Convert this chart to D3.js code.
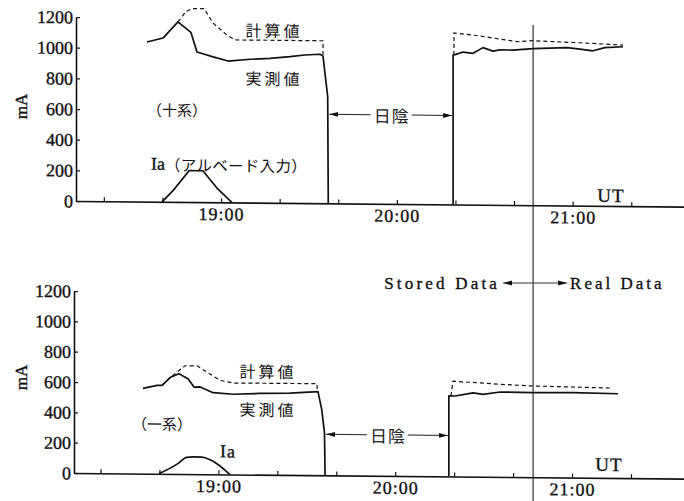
<!DOCTYPE html>
<html>
<head>
<meta charset="utf-8">
<script src="https://cdn.jsdelivr.net/npm/d3@7"></script>
<style>
  body { margin: 0; background: #fff; }
  svg { display: block; }
  .serif { font-family: "Liberation Serif", "Times New Roman", serif; stroke: #111; stroke-width: 0.35px; }
  .jp { font-family: "Noto Sans CJK JP", sans-serif; }
</style>
</head>
<body>
<svg id="chart" width="684" height="501"></svg>
<script>
// Time is given in minutes after 18:00 UT, current in mA.
const yTicks = [0, 200, 400, 600, 800, 1000, 1200];
const xTicks = [20, 40, 60, 80, 100, 120, 140, 160, 180, 200];
const hourTicks = [60, 120, 180];
const hourLabels = ["19:00", "20:00", "21:00"];

// (+) system
const plusMeasuredA = [[34.7,1041],[40.2,1068],[45.3,1174],[49.7,1107],[51.8,979],[57.3,948],[62.4,922],[69.9,935],[76.7,942],[83.5,954],[88.6,966],[93.8,972],[94.8,960],[96.4,695],[96.6,0]];
const plusMeasuredB = [[139.2,0],[139.2,975],[139.9,978],[142.6,995],[146.0,987],[149.4,1025],[152.8,1003],[155.2,1011],[159.6,1011],[166.5,1021],[178.1,1030],[182.5,1021],[186.9,1011],[191.0,1032],[197.2,1039]];
const plusCalcA = [[45.3,1174],[48.0,1242],[50.1,1262],[54.2,1263],[57.3,1168],[62.0,1092],[64.8,1060],[94.8,1060],[94.8,960]];
const plusCalcB = [[139.5,975],[139.5,1119],[148.2,1101],[161.0,1066],[166.5,1073],[186.9,1059],[197.2,1050]];
const plusAlbedo = [[39.9,0],[43.6,73],[49.1,205],[53.8,205],[58.6,93],[63.7,0]];
const plusEclipse = [96.6, 139.2];

// (-) system
const minusMeasuredA = [[34.4,562],[39.2,583],[40.9,583],[43.6,635],[46.6,661],[49.7,629],[51.7,574],[53.8,575],[58.2,538],[65.0,529],[74.1,536],[84.3,540],[93.8,551],[95.1,430],[96.0,280],[96.2,0]];
const minusMeasuredB = [[138.2,0],[138.2,531],[140.3,531],[146.4,553],[149.8,544],[155.6,560],[166.4,558],[180.3,561],[195.6,556]];
const minusCalcA = [[40.9,583],[43.6,635],[48.7,714],[52.7,714],[56.1,674],[60.5,620],[65.0,603],[93.5,604],[93.5,551]];
const minusCalcB = [[138.9,531],[139.6,629],[155.6,611],[166.4,602],[193.6,593]];
const minusAlbedo = [[39.8,0],[46,65],[49.3,110],[51.5,113],[54.4,112],[57,97],[59.5,70],[62,32],[63.9,0]];
const minusEclipse = [96.2, 138.2];

// Switch from stored to real-time telemetry
const switchTime = 166.5;

const svg = d3.select("#chart");
const SLOPE = 0.0093; // the baseline of each panel runs slightly downhill

const defs = svg.append("defs");
defs.append("marker")
  .attr("id", "head")
  .attr("viewBox", "0 0 9 6")
  .attr("refX", 9).attr("refY", 3)
  .attr("markerWidth", 9).attr("markerHeight", 6)
  .attr("markerUnits", "userSpaceOnUse")
  .attr("orient", "auto-start-reverse")
  .append("path").attr("d", "M0,0.5 L9,3 L0,5.5 Z").attr("fill", "#111");

function drawPanel(cfg) {
  const g = svg.append("g")
    .attr("transform", `matrix(1,${SLOPE},0,1,0,${-SLOPE * cfg.x0})`);

  const x = d3.scaleLinear().domain(cfg.domain).range([cfg.x0, 684]);
  const y = d3.scaleLinear().domain([0, 1200]).range([cfg.y0, cfg.y0 - cfg.h]);

  const yAxis = g.append("g")
    .attr("transform", `translate(${cfg.x0},0)`)
    .call(d3.axisLeft(y).tickValues(yTicks).tickSize(-4).tickSizeOuter(0).tickPadding(3).tickFormat(d3.format("d")));
  const xAxis = g.append("g")
    .attr("transform", `translate(0,${cfg.y0})`)
    .call(d3.axisBottom(x).tickValues(xTicks).tickSize(-4).tickSizeOuter(0).tickPadding(5)
      .tickFormat(d => { const i = hourTicks.indexOf(d); return i >= 0 ? hourLabels[i] : ""; }));
  [yAxis, xAxis].forEach(a => {
    a.select(".domain").attr("stroke", "#111").attr("stroke-width", 1.6);
    a.selectAll(".tick line").attr("stroke", "#111").attr("stroke-width", 1.2);
    a.selectAll("text").attr("class", "serif").attr("font-size", 18).attr("fill", "#111");
  });
  xAxis.selectAll("text").attr("letter-spacing", 1);

  const line = d3.line().x(d => x(d[0])).y(d => y(d[1]));
  const smooth = d3.line().x(d => x(d[0])).y(d => y(d[1])).curve(d3.curveMonotoneX);

  [cfg.measuredA, cfg.measuredB].forEach(s => g.append("path").attr("d", line(s))
    .attr("fill", "none").attr("stroke", "#111").attr("stroke-width", 1.7).attr("stroke-linejoin", "round"));
  [cfg.calcA, cfg.calcB].forEach(s => g.append("path").attr("d", line(s))
    .attr("fill", "none").attr("stroke", "#111").attr("stroke-width", 1.2).attr("stroke-dasharray", "4,3"));
  g.append("path").attr("d", (cfg.smoothAlbedo ? smooth : line)(cfg.albedo))
    .attr("fill", "none").attr("stroke", "#111").attr("stroke-width", 1.7).attr("stroke-linejoin", "round");

  // eclipse span
  const ex0 = x(cfg.eclipse[0]), ex1 = x(cfg.eclipse[1]);
  const ey = cfg.eclipseY, ec = (ex0 + ex1) / 2 + 1;
  g.append("line").attr("x1", ec - 21).attr("y1", ey).attr("x2", ex0 + 1).attr("y2", ey)
    .attr("stroke", "#222").attr("stroke-width", 1).attr("marker-end", "url(#head)");
  g.append("line").attr("x1", ec + 20).attr("y1", ey).attr("x2", ex1 - 1).attr("y2", ey)
    .attr("stroke", "#222").attr("stroke-width", 1).attr("marker-end", "url(#head)");
  g.append("text").attr("class", "jp").attr("x", ec).attr("y", ey)
    .attr("text-anchor", "middle").attr("dominant-baseline", "central")
    .attr("font-size", 17).attr("letter-spacing", 1).attr("fill", "#222").text("日陰");

  // unit label
  g.append("text").attr("class", "serif")
    .attr("transform", `translate(22,${cfg.unitY}) rotate(-90)`)
    .attr("text-anchor", "middle").attr("dominant-baseline", "central")
    .attr("font-size", 17).attr("fill", "#111").text("mA");

  cfg.labels.forEach(l => {
    const t = g.append("text").attr("x", l.x).attr("y", l.y)
      .attr("text-anchor", l.anchor || "middle").attr("dominant-baseline", "central")
      .attr("fill", "#111");
    l.parts.forEach(p => t.append("tspan").attr("class", p.cls)
      .attr("font-size", p.size).attr("letter-spacing", p.ls || 0).text(p.t));
  });

  return { x, y };
}

const upperPanel = drawPanel({
  x0: 76, y0: 201, h: 184, domain: [10.5, 218],
  measuredA: plusMeasuredA, measuredB: plusMeasuredB,
  calcA: plusCalcA, calcB: plusCalcB,
  albedo: plusAlbedo, smoothAlbedo: false,
  eclipse: plusEclipse, eclipseY: 112,
  unitY: 107,
  labels: [
    { x: 274, y: 28, parts: [{ cls: "jp", size: 16, ls: 3, t: "計算値" }] },
    { x: 274, y: 76, parts: [{ cls: "jp", size: 16, ls: 3, t: "実測値" }] },
    { x: 177, y: 108, parts: [{ cls: "jp", size: 15, t: "（十系）" }] },
    { x: 151, y: 163, anchor: "start", parts: [{ cls: "serif", size: 18, t: "Ia" }, { cls: "jp", size: 15.5, ls: 0.3, t: "（アルベード入力）" }] },
    { x: 611, y: 190, parts: [{ cls: "serif", size: 19, ls: 1, t: "UT" }] }
  ]
});

const lowerPanel = drawPanel({
  x0: 74, y0: 473, h: 182, domain: [11, 218],
  measuredA: minusMeasuredA, measuredB: minusMeasuredB,
  calcA: minusCalcA, calcB: minusCalcB,
  albedo: minusAlbedo, smoothAlbedo: true,
  eclipse: minusEclipse, eclipseY: 432,
  unitY: 378,
  labels: [
    { x: 268, y: 369, parts: [{ cls: "jp", size: 16, ls: 3, t: "計算値" }] },
    { x: 268, y: 407, parts: [{ cls: "jp", size: 16, ls: 3, t: "実測値" }] },
    { x: 162, y: 422, parts: [{ cls: "jp", size: 15, t: "（一系）" }] },
    { x: 228, y: 450, parts: [{ cls: "serif", size: 18, ls: 1, t: "Ia" }] },
    { x: 609, y: 459, parts: [{ cls: "serif", size: 19, ls: 1, t: "UT" }] }
  ]
});

// stored / real data boundary
const sx = upperPanel.x(switchTime);
svg.append("line").attr("x1", sx).attr("x2", sx).attr("y1", 25).attr("y2", 501)
  .attr("stroke", "#222").attr("stroke-width", 1.1);
svg.append("line").attr("x1", sx - 30).attr("x2", sx + 34).attr("y1", 283).attr("y2", 283)
  .attr("stroke", "#333").attr("stroke-width", 1)
  .attr("marker-start", "url(#head)").attr("marker-end", "url(#head)");
svg.append("text").attr("class", "serif").attr("x", sx - 33).attr("y", 283)
  .attr("text-anchor", "end").attr("dominant-baseline", "central")
  .attr("font-size", 17).attr("letter-spacing", 3.2).attr("fill", "#111").text("Stored Data");
svg.append("text").attr("class", "serif").attr("x", sx + 37).attr("y", 283)
  .attr("text-anchor", "start").attr("dominant-baseline", "central")
  .attr("font-size", 17).attr("letter-spacing", 3).attr("fill", "#111").text("Real Data");
</script>
</body>
</html>
